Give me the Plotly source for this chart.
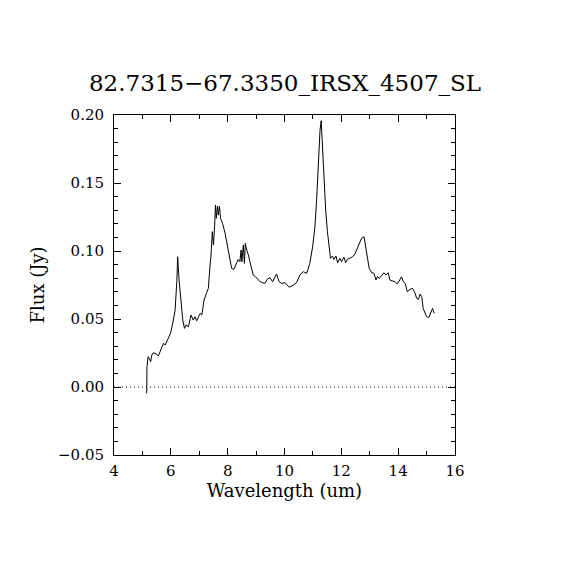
import plotly.graph_objects as go

# wavelength (um) and flux (Jy)
wavelength = [
    5.15, 5.16, 5.20, 5.24, 5.29, 5.33, 5.38, 5.48, 5.56, 5.68, 5.74, 5.80,
    5.91, 5.99, 6.09, 6.15, 6.21, 6.24, 6.29, 6.36, 6.42, 6.48, 6.53, 6.62,
    6.71, 6.79, 6.85, 6.91, 6.97, 7.03, 7.09, 7.17, 7.26, 7.32, 7.38, 7.41,
    7.46, 7.50, 7.54, 7.57, 7.60, 7.64, 7.67, 7.71, 7.75, 7.82, 7.91, 7.99,
    8.08, 8.14, 8.22, 8.32, 8.37, 8.43, 8.47, 8.50, 8.55, 8.59, 8.62, 8.67,
    8.73, 8.81, 8.90, 8.98, 9.08, 9.14, 9.23, 9.31, 9.39, 9.49, 9.58, 9.66,
    9.72, 9.81, 9.90, 10.02, 10.17, 10.31, 10.42, 10.54, 10.66, 10.78, 10.89,
    10.99, 11.07, 11.13, 11.19, 11.25, 11.29, 11.34, 11.39, 11.45, 11.51,
    11.56, 11.62, 11.69, 11.74, 11.81, 11.87, 11.95, 12.01, 12.09, 12.15,
    12.21, 12.30, 12.40, 12.48, 12.54, 12.63, 12.71, 12.80, 12.87, 12.91,
    12.98, 13.07, 13.15, 13.22, 13.27, 13.34, 13.42, 13.50, 13.57, 13.65,
    13.71, 13.81, 13.89, 13.97, 14.04, 14.12, 14.18, 14.25, 14.32, 14.42,
    14.51, 14.59, 14.65, 14.71, 14.77, 14.83, 14.88, 15.00, 15.08, 15.14,
    15.21, 15.27,
]
flux = [
    -0.0047, 0.0149, 0.0223, 0.0211, 0.0186, 0.0235, 0.0252, 0.0243, 0.0228,
    0.0296, 0.0321, 0.0309, 0.0358, 0.0395, 0.0492, 0.0566, 0.0774, 0.0958,
    0.0786, 0.0590, 0.0492, 0.0431, 0.0456, 0.0443, 0.0529, 0.0492, 0.0517,
    0.0487, 0.0517, 0.0541, 0.0529, 0.0640, 0.0693, 0.0725, 0.0897, 0.0958,
    0.1142, 0.1044, 0.1178, 0.1338, 0.1240, 0.1330, 0.1264, 0.1330, 0.1240,
    0.1203, 0.1130, 0.1031, 0.0921, 0.0872, 0.0865, 0.0909, 0.0938, 0.0921,
    0.1007, 0.0921, 0.1044, 0.0909, 0.1056, 0.1007, 0.0970, 0.0897, 0.0823,
    0.0811, 0.0792, 0.0774, 0.0767, 0.0762, 0.0792, 0.0804, 0.0774, 0.0811,
    0.0831, 0.0774, 0.0762, 0.0767, 0.0733, 0.0750, 0.0767, 0.0823, 0.0848,
    0.0836, 0.0909, 0.1031, 0.1178, 0.1374, 0.1668, 0.1889, 0.1958, 0.1742,
    0.1497, 0.1301, 0.1142, 0.1031, 0.0946, 0.0963, 0.0938, 0.0963, 0.0914,
    0.0946, 0.0921, 0.0955, 0.0914, 0.0938, 0.0946, 0.0958, 0.0978, 0.1007,
    0.1061, 0.1093, 0.1105, 0.1019, 0.0958, 0.0872, 0.0840, 0.0836, 0.0786,
    0.0811, 0.0799, 0.0823, 0.0840, 0.0823, 0.0840, 0.0786, 0.0779, 0.0774,
    0.0757, 0.0779, 0.0811, 0.0774, 0.0762, 0.0701, 0.0718, 0.0725, 0.0693,
    0.0652, 0.0644, 0.0683, 0.0664, 0.0578, 0.0517, 0.0512, 0.0541, 0.0578,
    0.0541,
]

x_ticks = [4, 6, 8, 10, 12, 14, 16]
y_ticks = [-0.05, 0.00, 0.05, 0.10, 0.15, 0.20]

font = "DejaVu Serif"

fig = go.Figure()
fig.add_trace(go.Scatter(x=wavelength, y=flux, mode="lines",
                         line=dict(color="black", width=1), showlegend=False))

# zero level, dotted
fig.add_hline(y=0, line=dict(color="black", width=1, dash="1px,3px"))

axis_common = dict(
    showgrid=False, zeroline=False, showline=True, linecolor="black", linewidth=1,
    mirror="allticks", ticks="inside", ticklen=7, tickcolor="black",
    tickfont=dict(family=font, size=15, color="black"),
)

fig.update_xaxes(range=[4, 16], tickvals=x_ticks, ticklabelstandoff=2,
                 minor=dict(dtick=1, ticks="inside", ticklen=4, tickcolor="black"),
                 title=dict(text="Wavelength (um)", font=dict(family=font, size=18, color="black"),
                            standoff=5),
                 **axis_common)
fig.update_yaxes(range=[-0.05, 0.20], tickvals=y_ticks, tickformat=".2f", ticklabelstandoff=6,
                 minor=dict(dtick=0.01, ticks="inside", ticklen=4, tickcolor="black"),
                 title=dict(text="Flux (Jy)", font=dict(family=font, size=18, color="black"),
                            standoff=8),
                 **axis_common)

# the page body adds an 8px offset at top and left
fig.update_layout(
    width=570, height=570,
    margin=dict(l=106, r=123, t=107, b=123),
    paper_bgcolor="white", plot_bgcolor="white",
    title=dict(text="82.7315\u221267.3350_IRSX_4507_SL", x=(285 - 8) / 570, xanchor="center",
               y=1 - 75 / 570, yanchor="middle", yref="container",
               font=dict(family=font, size=23, color="black")),
)

fig.write_html("out.html")
